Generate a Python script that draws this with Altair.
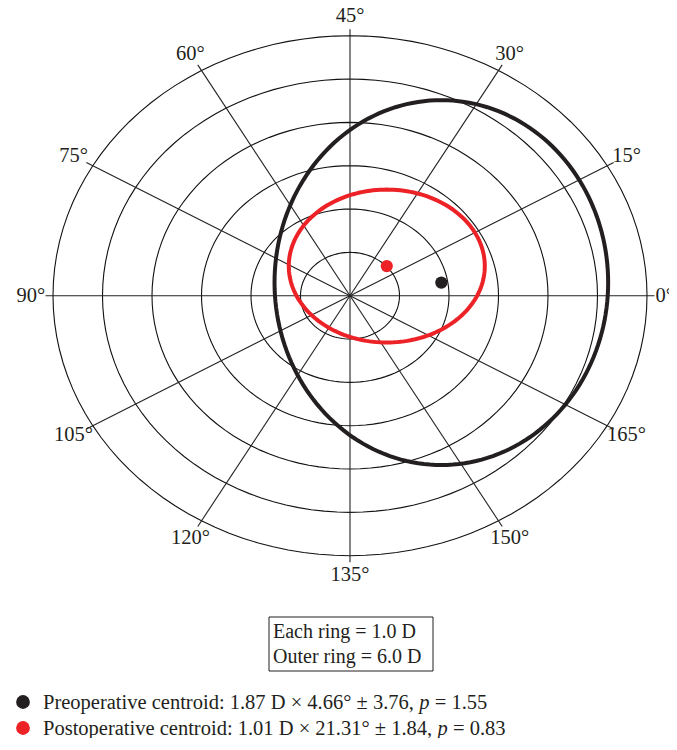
import altair as alt
import numpy as np
import pandas as pd

# ---------------- data ----------------
RING_RADII = [1, 2, 3, 4, 5, 6]                       # dioptres
SPOKE_LABELS = [0, 15, 30, 45, 60, 75, 90, 105, 120, 135, 150, 165]  # degrees (double-angle plot)
GROUPS = ["Preoperative", "Postoperative"]
CENTROID_MAG = [1.87, 1.01]                             # D
CENTROID_AXIS = [4.66, 21.31]                           # degrees
ELLIPSE_SEMI_X = [3.37, 1.98]                           # D
ELLIPSE_SEMI_Y = [4.21, 1.765]                          # D
COLORS = ["#231f20", "#ec2227"]
BOX_LINES = ["Each ring = 1.0 D", "Outer ring = 6.0 D"]
LEGEND_PREFIX = ["Preoperative centroid: 1.87 D × 4.66° ± 3.76,",
                 "Postoperative centroid: 1.01 D × 21.31° ± 1.84,"]
LEGEND_P = ["p", "p"]
LEGEND_SUFFIX = ["= 1.55", "= 0.83"]

# ---------------- layout ----------------
FONT = "Liberation Serif"
W, H = 661, 730
CX, CY = 342.0, 287.7          # plot centre inside the svg, pixels
PX_X, PX_Y = 49.5, 43.33       # pixels per dioptre
X_DOMAIN = [-CX / PX_X, (W - CX) / PX_X]
Y_DOMAIN = [(CY - H) / PX_Y, CY / PX_Y]
SPOKE_R = 6.15
LABEL_R = 6.45
LEG_FS = 20.5

xs = alt.Scale(domain=X_DOMAIN, nice=False, zero=False)
ys = alt.Scale(domain=Y_DOMAIN, nice=False, zero=False)


def X(f):
    return alt.X(f, type="quantitative", scale=xs, axis=None)


def Y(f):
    return alt.Y(f, type="quantitative", scale=ys, axis=None)


# rings
ring_rows = []
for r in RING_RADII:
    for i, t in enumerate(range(0, 361, 3)):
        a = np.radians(t)
        ring_rows.append({"ring": r, "i": i, "x": r * np.cos(a), "y": r * np.sin(a)})
rings = alt.Chart(pd.DataFrame(ring_rows)).mark_line(color="#111", strokeWidth=1.1).encode(
    x=X("x"), y=Y("y"), detail="ring:N", order="i:Q")

# spokes
spoke_df = pd.DataFrame({
    "lab": SPOKE_LABELS,
    "x0": [0.0] * len(SPOKE_LABELS),
    "y0": [0.0] * len(SPOKE_LABELS),
    "x1": [SPOKE_R * np.cos(np.radians(2 * d)) for d in SPOKE_LABELS],
    "y1": [SPOKE_R * np.sin(np.radians(2 * d)) for d in SPOKE_LABELS],
})
spokes = alt.Chart(spoke_df).mark_rule(color="#222", strokeWidth=1.1).encode(
    x=X("x0"), y=Y("y0"), x2="x1:Q", y2="y1:Q")

# angle labels (the 0° label sits at the right edge, just past its spoke)
lab_df = pd.DataFrame({
    "t": [f"{d}°" for d in SPOKE_LABELS],
    "x": [LABEL_R * np.cos(np.radians(2 * d)) for d in SPOKE_LABELS],
    "y": [LABEL_R * np.sin(np.radians(2 * d)) for d in SPOKE_LABELS],
})
labels = alt.Chart(lab_df.iloc[1:]).mark_text(font=FONT, fontSize=20.5, color="#231f20",
                                              align="center", baseline="middle").encode(
    x=X("x"), y=Y("y"), text="t:N")
zero_label = alt.Chart(pd.DataFrame({"t": [lab_df["t"].iloc[0]], "x": [SPOKE_R], "y": [0.0]})).mark_text(
    font=FONT, fontSize=20.5, color="#231f20", align="left", baseline="middle", dx=1).encode(
    x=X("x"), y=Y("y"), text="t:N")

# confidence ellipses
ell_rows = []
for g, m, ax, a, b in zip(GROUPS, CENTROID_MAG, CENTROID_AXIS, ELLIPSE_SEMI_X, ELLIPSE_SEMI_Y):
    cx = m * np.cos(np.radians(2 * ax))
    cy = m * np.sin(np.radians(2 * ax))
    for i, t in enumerate(range(0, 361, 2)):
        tt = np.radians(t)
        ell_rows.append({"g": g, "i": i, "x": cx + a * np.cos(tt), "y": cy + b * np.sin(tt)})
color = alt.Color("g:N", scale=alt.Scale(domain=GROUPS, range=COLORS), legend=None)
ellipses = alt.Chart(pd.DataFrame(ell_rows)).mark_line(strokeWidth=4).encode(
    x=X("x"), y=Y("y"), detail="g:N", order="i:Q", color=color)

cent_df = pd.DataFrame({
    "g": GROUPS,
    "x": [m * np.cos(np.radians(2 * a)) for m, a in zip(CENTROID_MAG, CENTROID_AXIS)],
    "y": [m * np.sin(np.radians(2 * a)) for m, a in zip(CENTROID_MAG, CENTROID_AXIS)],
})
dots = alt.Chart(cent_df).mark_circle(size=150, opacity=1).encode(
    x=X("x"), y=Y("y"), color=color)

# ---------------- annotation box & legend ----------------
TIMES = {' ': 250, 'P': 556, 'r': 333, 'e': 444, 'o': 500, 'p': 500, 'a': 444, 't': 278,
         'i': 278, 'v': 500, 'c': 444, 'n': 500, 'd': 500, ':': 278, '.': 250, ',': 250,
         'D': 722, '×': 564, '±': 564, '°': 400, 's': 389, '=': 564}


def tw(s, fs):
    return sum(TIMES.get(ch, 500) for ch in s) / 1000.0 * fs


def txt(s, x, y, **kw):
    return alt.Chart(pd.DataFrame({"t": [s]})).mark_text(
        font=FONT, color="#231f20", align="left", baseline="alphabetic", **kw).encode(
        x=alt.value(x), y=alt.value(y), text="t:N")


one = pd.DataFrame({"a": [0]})
box = alt.Chart(one).mark_rect(fillOpacity=0, stroke="#231f20", strokeWidth=1).encode(
    x=alt.value(261), x2=alt.value(425), y=alt.value(609), y2=alt.value(663))

layers = [rings, spokes, labels, zero_label, ellipses, dots, box]
for k, s in enumerate(BOX_LINES):
    layers.append(txt(s, 265, 630 + 25 * k, fontSize=20))

LEG_X = 35
for k in range(2):
    by = 701 + 26 * k
    layers.append(alt.Chart(one).mark_circle(size=190, opacity=1, color=COLORS[k]).encode(
        x=alt.value(15), y=alt.value(by - 7)))
    layers.append(txt(LEGEND_PREFIX[k], LEG_X, by, fontSize=LEG_FS))
    px = LEG_X + tw(LEGEND_PREFIX[k] + " ", LEG_FS)
    layers.append(txt(LEGEND_P[k], px, by, fontSize=LEG_FS, fontStyle="italic"))
    layers.append(txt(LEGEND_SUFFIX[k], px + tw("p ", LEG_FS), by, fontSize=LEG_FS))

chart = alt.layer(*layers).properties(
    width=W, height=H, padding=0,
    autosize=alt.AutoSizeParams(type="none"),
).configure_view(strokeWidth=0)

chart.save("out.html", embed_options={"renderer": "svg", "actions": False})
